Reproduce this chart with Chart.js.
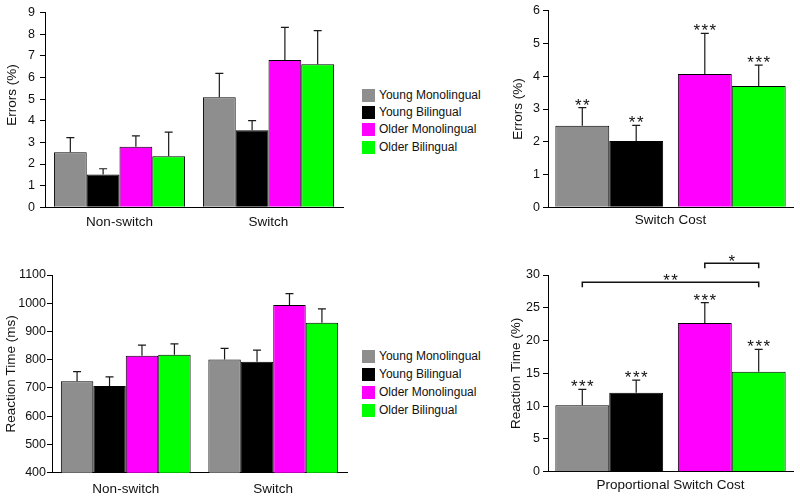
<!DOCTYPE html>
<html>
<head>
<meta charset="utf-8">
<script src="https://cdn.jsdelivr.net/npm/chart.js@4.4.0/dist/chart.umd.min.js"></script>
<style>
  body { margin: 0; background: #fff; width: 800px; height: 498px; position: relative; overflow: hidden;
         font-family: 'Liberation Sans', Arial, sans-serif; }
  canvas { position: absolute; }
  .legend { position: absolute; left: 362px; font-size: 12px; color: #111; }
  .legend div { position: absolute; left: 0; height: 13px; line-height: 13px; white-space: nowrap; }
  .legend span { display: inline-block; width: 13px; height: 13px; vertical-align: top; margin-right: 4px; }
</style>
</head>
<body>
<canvas id="errTrials" width="350" height="240" style="left:0;top:0"></canvas>
<canvas id="errCost" width="310" height="240" style="left:490px;top:0"></canvas>
<canvas id="rtTrials" width="350" height="248" style="left:0;top:250px"></canvas>
<canvas id="rtCost" width="310" height="248" style="left:490px;top:250px"></canvas>
<div class="legend" id="legendTop" style="top:88.5px"></div>
<div class="legend" id="legendBottom" style="top:350px"></div>

<script>
const groups = ['Young Monolingual', 'Young Bilingual', 'Older Monolingual', 'Older Bilingual'];
const groupColors = ['#8e8e8e', '#000000', '#ff00ff', '#00ff00'];
const trialTypes = ['Non-switch', 'Switch'];

// errors (%), mean and SE per group
const errorNonSwitch = [2.54, 1.52, 2.80, 2.36];
const errorNonSwitchSE = [0.68, 0.26, 0.50, 1.11];
const errorSwitch = [5.08, 3.56, 6.81, 6.61];
const errorSwitchSE = [1.11, 0.44, 1.50, 1.55];
const errorCost = [2.49, 2.02, 4.07, 3.70];
const errorCostSE = [0.55, 0.48, 1.24, 0.64];
const errorCostStars = ['**', '**', '***', '***'];

// reaction time (ms) and proportional switch cost (%)
const rtNonSwitch = [724, 707, 814, 818];
const rtNonSwitchSE = [34, 32, 38, 38];
const rtSwitch = [801, 793, 994, 931];
const rtSwitchSE = [39, 41, 40, 49];
const rtCost = [10.12, 12.05, 22.67, 15.25];
const rtCostSE = [2.44, 1.93, 3.11, 3.41];
const rtCostStars = ['***', '***', '***', '***'];
const rtCostBrackets = [
  {from: 0, to: 3, at: 28.9, label: '**'},
  {from: 2, to: 3, at: 31.8, label: '*'}
];

Chart.defaults.font.family = "'Liberation Sans', Arial, sans-serif";
Chart.defaults.color = '#111';

function drawStars(ctx, text, x, baseline) {
  ctx.fillStyle = '#111';
  ctx.font = "17px 'Liberation Sans', Arial";
  ctx.letterSpacing = '1.5px';
  ctx.textAlign = 'center';
  ctx.textBaseline = 'alphabetic';
  ctx.fillText(text, x + 0.75, baseline);
}

// error bars, stars and brackets on top of the bars
function barExtras(brackets) {
  return {
    id: 'barExtras',
    afterDatasetsDraw(chart) {
      const ctx = chart.ctx;
      const y = chart.scales.y;
      ctx.save();
      chart.data.datasets.forEach((ds, di) => {
        chart.getDatasetMeta(di).data.forEach((bar, j) => {
          const top = y.getPixelForValue(ds.data[j] + ds.errors[j]);
          ctx.strokeStyle = '#1a1a1a';
          ctx.lineWidth = 1.2;
          ctx.beginPath();
          ctx.moveTo(bar.x, bar.y);
          ctx.lineTo(bar.x, top);
          ctx.moveTo(bar.x - 4, top);
          ctx.lineTo(bar.x + 4, top);
          ctx.stroke();
          if (ds.stars) drawStars(ctx, ds.stars[j], bar.x, top + 3);
        });
      });
      // group index i sits in dataset i % 2, at category floor(i / 2)
      const center = i => chart.getDatasetMeta(i % 2).data[Math.floor(i / 2)].x;
      (brackets || []).forEach(b => {
        const x1 = center(b.from), x2 = center(b.to), yy = y.getPixelForValue(b.at);
        ctx.strokeStyle = '#111';
        ctx.lineWidth = 1.5;
        ctx.beginPath();
        ctx.moveTo(x1, yy + 5);
        ctx.lineTo(x1, yy);
        ctx.lineTo(x2, yy);
        ctx.lineTo(x2, yy + 5);
        ctx.stroke();
        drawStars(ctx, b.label, (x1 + x2) / 2, yy + 4);
      });
      ctx.restore();
    }
  };
}

function trialDatasets(a, aSE, b, bSE) {
  return groups.map((g, i) => ({
    label: g,
    data: [a[i], b[i]],
    errors: [aSE[i], bSE[i]],
    backgroundColor: groupColors[i],
    borderColor: '#000',
    borderWidth: 1,
    barPercentage: 1,
    categoryPercentage: 0.88
  }));
}

// young pair in the first slot, older pair in the second
function costDatasets(v, se, stars) {
  return [0, 1].map(k => ({
    label: groups[k] + ' / ' + groups[k + 2],
    data: [v[k], v[k + 2]],
    errors: [se[k], se[k + 2]],
    stars: [stars[k], stars[k + 2]],
    backgroundColor: [groupColors[k], groupColors[k + 2]],
    borderColor: '#000',
    borderWidth: 1,
    barPercentage: 1,
    categoryPercentage: 0.88
  }));
}

function options(c) {
  return {
    responsive: false,
    animation: false,
    devicePixelRatio: 1,
    layout: {padding: c.pad},
    plugins: {legend: {display: false}, tooltip: {enabled: false}},
    scales: {
      x: {
        grid: {display: false, drawTicks: false},
        border: {color: '#000', width: 1},
        ticks: {display: !c.xTitle, font: {size: 13.5}, padding: c.xTickPad || 0},
        title: {display: !!c.xTitle, text: c.xTitle, font: {size: 13.5}, padding: {top: 0, bottom: c.xTitlePad || 0}},
        afterFit: s => { s.height = c.xH; }
      },
      y: {
        min: c.min, max: c.max,
        ticks: {stepSize: c.step, font: {size: 12.5}, padding: c.yTickPad, callback: v => String(v)},
        grid: {drawOnChartArea: false, drawTicks: true, tickLength: 5, color: '#000'},
        border: {color: '#000', width: 1},
        title: {display: true, text: c.yTitle, font: {size: 13.5}, padding: {top: c.yTitlePad, bottom: 0}},
        afterFit: s => { s.width = c.yW; }
      }
    }
  };
}

new Chart(document.getElementById('errTrials'), {
  type: 'bar',
  data: {labels: trialTypes, datasets: trialDatasets(errorNonSwitch, errorNonSwitchSE, errorSwitch, errorSwitchSE)},
  options: options({pad: {left: 0, top: 10, right: 7, bottom: 0}, xH: 32.7, xTickPad: 7,
    min: 0, max: 9, step: 1, yW: 45, yTickPad: 5, yTitlePad: 4.6, yTitle: '        Errors (%)'}),
  plugins: [barExtras()]
});

new Chart(document.getElementById('errCost'), {
  type: 'bar',
  data: {labels: ['Young', 'Older'], datasets: costDatasets(errorCost, errorCostSE, errorCostStars)},
  options: options({pad: {left: 16, top: 10.7, right: 7, bottom: 0}, xH: 32.7, xTitle: 'Switch Cost', xTitlePad: 11.2,
    min: 0, max: 6, step: 1, yW: 42, yTickPad: 3, yTitlePad: 3.9, yTitle: 'Errors (%)'}),
  plugins: [barExtras()]
});

new Chart(document.getElementById('rtTrials'), {
  type: 'bar',
  data: {labels: trialTypes, datasets: trialDatasets(rtNonSwitch, rtNonSwitchSE, rtSwitch, rtSwitchSE)},
  options: options({pad: {left: 0, top: 25, right: 3, bottom: 0}, xH: 25.3, xTickPad: 8,
    min: 400, max: 1100, step: 100, yW: 52, yTickPad: 1, yTitlePad: 2.7, yTitle: 'Reaction Time (ms)'}),
  plugins: [barExtras()]
});

new Chart(document.getElementById('rtCost'), {
  type: 'bar',
  data: {labels: ['Young', 'Older'], datasets: costDatasets(rtCost, rtCostSE, rtCostStars)},
  options: options({pad: {left: 16, top: 25, right: 7, bottom: 0}, xH: 26.3, xTitle: 'Proportional Switch Cost', xTitlePad: 4.2,
    min: 0, max: 30, step: 5, yW: 42, yTickPad: 3, yTitlePad: 2.6, yTitle: 'Reaction Time (%)'}),
  plugins: [barExtras(rtCostBrackets)]
});

function buildLegend(id, spacing) {
  const box = document.getElementById(id);
  groups.forEach((g, i) => {
    const row = document.createElement('div');
    row.style.top = (i * spacing) + 'px';
    const sw = document.createElement('span');
    sw.style.background = groupColors[i];
    row.appendChild(sw);
    row.appendChild(document.createTextNode(g));
    box.appendChild(row);
  });
}
buildLegend('legendTop', 17.4);
buildLegend('legendBottom', 18);
</script>
</body>
</html>
